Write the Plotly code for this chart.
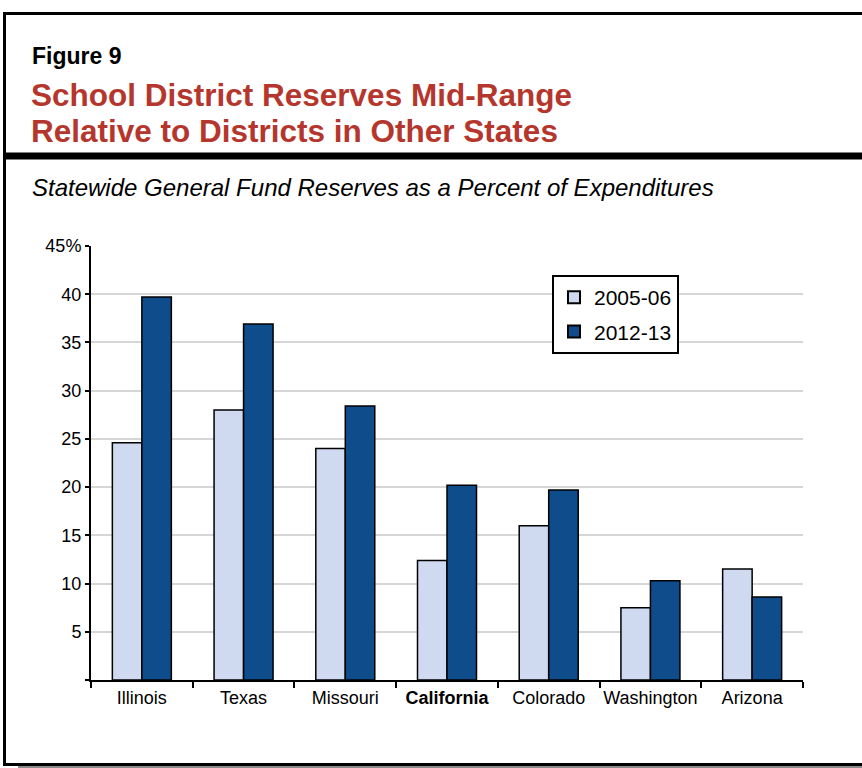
import plotly.graph_objects as go

# Statewide general fund reserves as a percent of expenditures
states = ["Illinois", "Texas", "Missouri", "California", "Colorado", "Washington", "Arizona"]
reserves_2005_06 = [24.6, 28.0, 24.0, 12.4, 16.0, 7.5, 11.5]
reserves_2012_13 = [39.7, 36.9, 28.4, 20.2, 19.7, 10.3, 8.6]
series_names = ["2005-06", "2012-13"]
y_tick_values = [0, 5, 10, 15, 20, 25, 30, 35, 40, 45]
y_tick_labels = ["", "5", "10", "15", "20", "25", "30", "35", "40", "45%"]
x_tick_labels = ["<b>California</b>" if s == "California" else s for s in states]

LIGHT = "#cfdaf0"
DARK = "#0e4c8b"
TITLE_RED = "#b5362c"
FONT = "Liberation Sans, Arial, Helvetica, sans-serif"

W, H = 862, 768
L, R, T, B = 91, 59, 246, 88
PW, PH = W - L - R, H - T - B


def px(x):
    """Horizontal pixel -> paper coordinate."""
    return (x - L) / PW


def py(y):
    """Vertical pixel (from top) -> paper coordinate."""
    return (H - B - y) / PH


fig = go.Figure()
fig.add_trace(go.Bar(
    x=states, y=reserves_2005_06, name=series_names[0], legendgroup="a",
    marker=dict(color=LIGHT, line=dict(color="#000000", width=1.5)),
))
fig.add_trace(go.Bar(
    x=states, y=reserves_2012_13, name=series_names[1], legendgroup="b",
    marker=dict(color=DARK, line=dict(color="#000000", width=1.5)),
))

# Outer frame, heavy rule under the heading, and a soft drop shadow
shapes = [
    dict(type="rect", xref="paper", yref="paper",
         x0=px(4.5), x1=px(875), y0=py(13.5), y1=py(764.5),
         line=dict(color="#000000", width=3), fillcolor="rgba(0,0,0,0)", layer="above"),
    dict(type="rect", xref="paper", yref="paper",
         x0=px(3), x1=px(875), y0=py(152.5), y1=py(159.5),
         line=dict(width=0), fillcolor="#000000", layer="above"),
    dict(type="line", xref="paper", yref="paper",
         x0=px(18), x1=px(875), y0=py(767), y1=py(767),
         line=dict(color="#8a8a8a", width=2), layer="above"),
]

annotations = [
    dict(text="<b>Figure 9</b>", x=px(30), y=py(56), xref="paper", yref="paper",
         xanchor="left", yanchor="middle", showarrow=False,
         font=dict(family=FONT, size=23, color="#000000")),
    dict(text="<b>School District Reserves Mid-Range</b>", x=px(29), y=py(95),
         xref="paper", yref="paper", xanchor="left", yanchor="middle", showarrow=False,
         font=dict(family=FONT, size=31.5, color=TITLE_RED)),
    dict(text="<b>Relative to Districts in Other States</b>", x=px(29), y=py(131),
         xref="paper", yref="paper", xanchor="left", yanchor="middle", showarrow=False,
         font=dict(family=FONT, size=31.5, color=TITLE_RED)),
    dict(text="<i>Statewide General Fund Reserves as a Percent of Expenditures</i>",
         x=px(30), y=py(187), xref="paper", yref="paper", xanchor="left",
         yanchor="middle", showarrow=False,
         font=dict(family=FONT, size=24, color="#000000")),
]

fig.update_layout(
    width=W, height=H,
    margin=dict(l=L, r=R, t=T, b=B, autoexpand=False),
    paper_bgcolor="#ffffff", plot_bgcolor="#ffffff",
    barmode="group", bargap=0.42, bargroupgap=0,
    font=dict(family=FONT, size=18, color="#000000"),
    shapes=shapes, annotations=annotations,
    legend=dict(
        x=px(552), y=py(275), xanchor="left", yanchor="top",
        bordercolor="#000000", borderwidth=2, bgcolor="#ffffff",
        font=dict(family=FONT, size=21, color="#000000"),
        itemsizing="constant", tracegroupgap=4, itemwidth=30,
    ),
    showlegend=True,
)

fig.update_xaxes(
    tickmode="array", tickvals=states, ticktext=x_tick_labels, tickangle=0,
    tickson="boundaries", ticks="outside", ticklen=6, tickwidth=2, tickcolor="#000000",
    showline=True, linecolor="#000000", linewidth=2,
    showgrid=False, tickfont=dict(family=FONT, size=18, color="#000000"),
)
fig.update_yaxes(
    range=[0, 45], tickmode="array", tickvals=y_tick_values, ticktext=y_tick_labels,
    ticks="outside", ticklen=4, tickwidth=2, tickcolor="#000000",
    showline=True, linecolor="#000000", linewidth=2,
    showgrid=True, gridcolor="#d6d6d6", gridwidth=1.5,
    zeroline=False, tickfont=dict(family=FONT, size=18, color="#000000"),
)

fig.write_html("out.html")
